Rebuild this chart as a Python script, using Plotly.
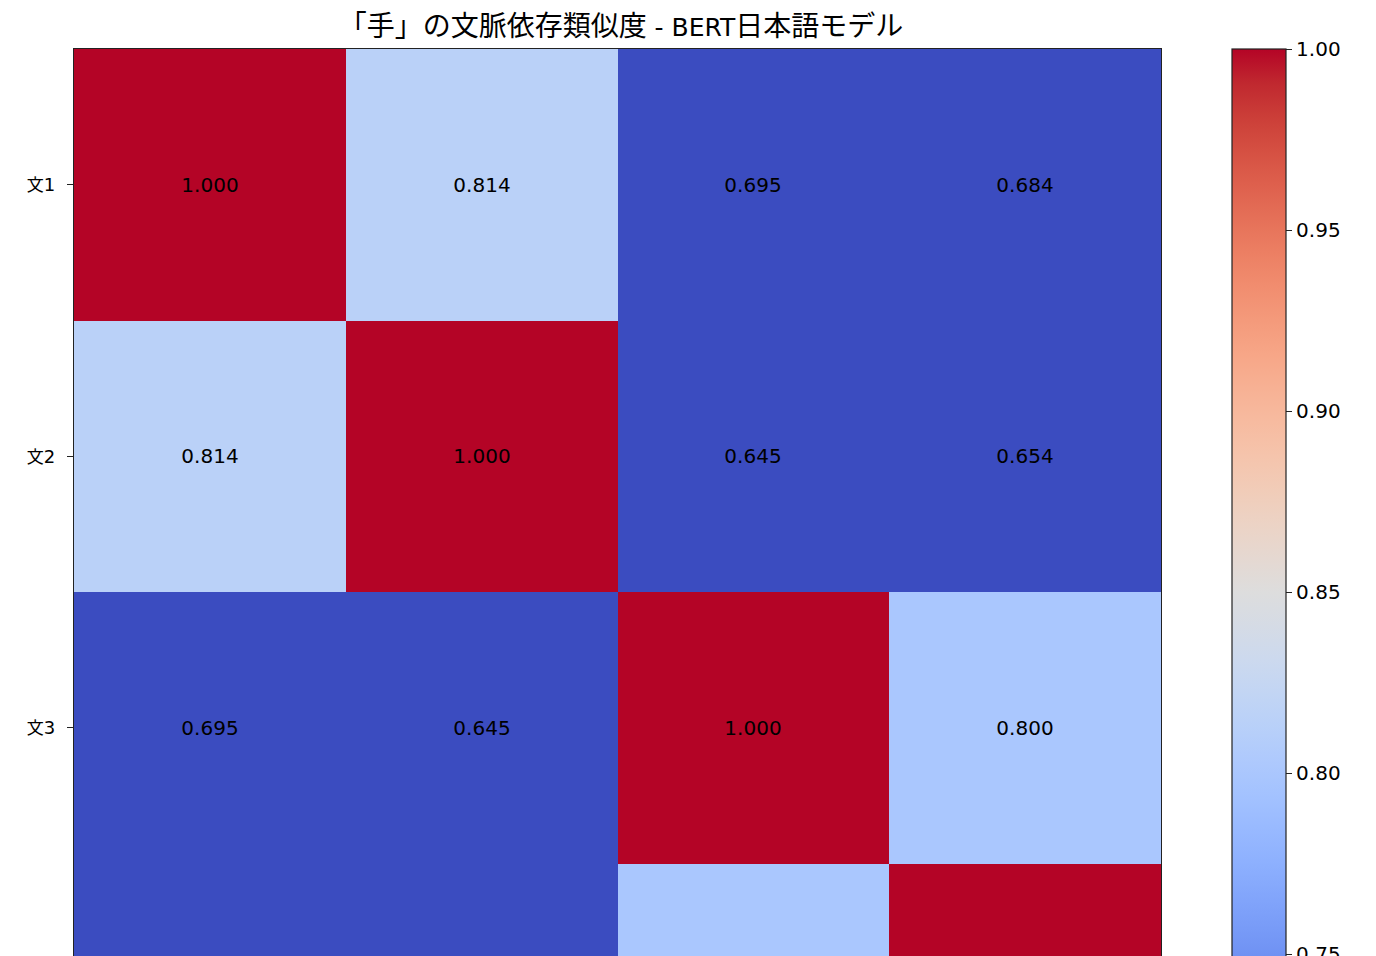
import plotly.graph_objects as go

# Similarity matrix of "手" across four sentences
labels = ['文1', '文2', '文3', '文4']
sim = [
    [1.000, 0.814, 0.695, 0.684],
    [0.814, 1.000, 0.645, 0.654],
    [0.695, 0.645, 1.000, 0.800],
    [0.684, 0.654, 0.800, 1.000],
]
cbar_ticks = [0.70, 0.75, 0.80, 0.85, 0.90, 0.95, 1.00]

# matplotlib "coolwarm" (Moreland table)
cw = [
    (59, 76, 192), (68, 90, 204), (77, 104, 215), (87, 117, 225), (98, 130, 234),
    (108, 142, 241), (119, 154, 247), (130, 165, 251), (141, 176, 254),
    (152, 185, 255), (163, 194, 255), (174, 201, 253), (184, 208, 249),
    (194, 213, 244), (204, 217, 238), (213, 219, 229), (221, 221, 221),
    (229, 216, 209), (236, 211, 197), (241, 204, 184), (245, 196, 172),
    (247, 187, 160), (247, 177, 148), (247, 166, 135), (244, 154, 123),
    (241, 141, 111), (236, 127, 99), (229, 112, 88), (222, 96, 77),
    (213, 80, 66), (203, 62, 56), (192, 40, 47), (180, 4, 38),
]
coolwarm = [[i / (len(cw) - 1), 'rgb(%d,%d,%d)' % c] for i, c in enumerate(cw)]

font = 'DejaVu Sans, Noto Sans CJK JP'
cjk = '<span style="font-family:Noto Sans CJK JP;font-size:%dpx">%s</span>'

# page has an 8px body margin, figure coords are shifted by it
W, H = 1368, 1192
left, right, top, bottom = 66, 215, 41, 65
plot_w = W - left - right

tick_text = [cjk % (17, lab[0]) + lab[1:] for lab in labels]
title = (cjk % (28, '「手」の文脈依存類似度') + ' - BERT' + cjk % (28, '日本語モデル'))

fig = go.Figure(go.Heatmap(
    z=sim, x=labels, y=labels,
    colorscale=coolwarm, zmin=0.7, zmax=1.0,
    texttemplate='%{z:.3f}', textfont=dict(size=20, color='black', family=font),
    hoverinfo='skip',
    colorbar=dict(
        x=(1224 - left) / plot_w, xanchor='left', xref='paper', xpad=0, ypad=0,
        y=0.5, yanchor='middle', len=1.0, lenmode='fraction',
        thickness=54, outlinewidth=1.2, outlinecolor='#222',
        tickvals=cbar_ticks, ticktext=['%.2f' % t for t in cbar_ticks],
        ticks='outside', ticklen=6, tickcolor='#222',
        tickfont=dict(size=20, family=font, color='black'),
    ),
))

fig.update_layout(
    width=W, height=H,
    margin=dict(l=left, r=right, t=top, b=bottom),
    paper_bgcolor='white', plot_bgcolor='white',
    font=dict(family=font, color='black'),
    title=dict(text=title, x=613 / W, xanchor='center', y=1 - 19 / H, yanchor='middle',
               font=dict(size=25, family=font, color='black')),
)
fig.update_xaxes(showline=True, mirror=True, linecolor='#222', linewidth=1.2,
                 ticks='outside', ticklen=6, tickcolor='#222', ticklabelstandoff=6,
                 tickvals=labels, ticktext=tick_text,
                 tickfont=dict(size=18), showgrid=False, zeroline=False)
fig.update_yaxes(autorange='reversed', showline=True, mirror=True, linecolor='#222',
                 linewidth=1.2, ticks='outside', ticklen=6, tickcolor='#222',
                 ticklabelstandoff=8, tickvals=labels, ticktext=tick_text,
                 tickfont=dict(size=18), showgrid=False, zeroline=False)

fig.write_html('out.html')
